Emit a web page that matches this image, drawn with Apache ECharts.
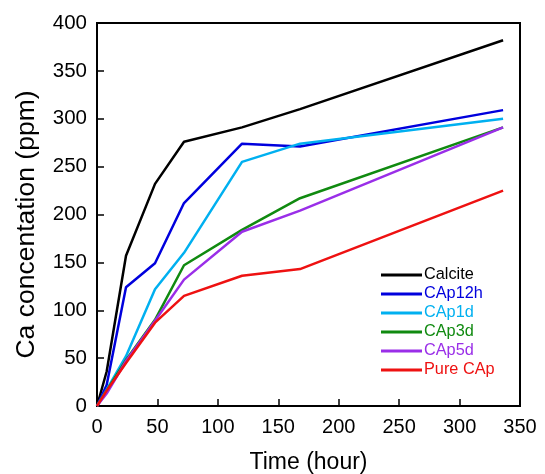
<!DOCTYPE html>
<html><head><meta charset="utf-8">
<script src="https://cdn.jsdelivr.net/npm/echarts@6/dist/echarts.min.js"></script>
<style>html,body{margin:0;padding:0;background:#fff}#c{width:545px;height:474px}</style>
</head><body><div id="c"></div>
<script>
const times = [0, 8, 24, 48, 72, 120, 168, 336];
const seriesNames = ['Calcite', 'CAp12h', 'CAp1d', 'CAp3d', 'CAp5d', 'Pure CAp'];
const calcite = [0, 36, 157, 232, 276, 291, 310, 382];
const cap12h = [0, 22, 124, 149, 212, 274, 271, 309];
const cap1d = [0, 17, 52, 122, 160, 255, 274, 300];
const cap3d = [0, 16, 48, 90, 147, 184, 217, 291];
const cap5d = [0, 13, 47, 89, 132, 182, 204, 291];
const pureCap = [0, 16, 45, 87, 115, 136, 143, 225];
const colors = ['#000000', '#0000dd', '#00b0f0', '#108a10', '#9a2ee8', '#ee1111'];
const values = [calcite, cap12h, cap1d, cap3d, cap5d, pureCap];

const font = 'Liberation Sans, Arial, sans-serif';
const chart = echarts.init(document.getElementById('c'));
chart.setOption({
  animation: false,
  backgroundColor: '#fff',
  grid: { left: 97, top: 23, right: 25, bottom: 68, show: true, borderColor: '#000', borderWidth: 2,
          containLabel: false, outerBoundsMode: 'none' },
  legend: {
    orient: 'vertical', left: 376, top: 262, itemWidth: 41, itemHeight: 3, itemGap: 3,
    icon: 'rect',
    data: seriesNames.map((n, i) => ({ name: n, textStyle: { color: colors[i] } })),
    textStyle: { fontFamily: font, fontSize: 16.3, padding: [0, 0, 0, -3] }
  },
  xAxis: {
    type: 'value', min: 0, max: 350, interval: 50,
    name: 'Time (hour)', nameLocation: 'middle', nameGap: 45,
    nameTextStyle: { fontFamily: font, fontSize: 23, color: '#000' },
    axisLine: { lineStyle: { color: '#000', width: 2 } },
    axisTick: { inside: true, length: 7, lineStyle: { color: '#000', width: 1.5 } },
    axisLabel: { fontFamily: font, fontSize: 20, color: '#000', margin: 11 },
    splitLine: { show: false }
  },
  yAxis: {
    type: 'value', min: 0, max: 400, interval: 50,
    name: 'Ca concentation (ppm)', nameLocation: 'middle', nameGap: 57,
    nameTextStyle: { fontFamily: font, fontSize: 26.5, color: '#000', padding: [0, 20, 0, 0] },
    axisLine: { show: true, lineStyle: { color: '#000', width: 2 } },
    axisTick: { show: true, inside: true, length: 7, lineStyle: { color: '#000', width: 1.5 } },
    axisLabel: { fontFamily: font, fontSize: 20.5, color: '#000', margin: 10 },
    splitLine: { show: false }
  },
  series: seriesNames.map((n, i) => ({
    name: n, type: 'line', showSymbol: false, symbol: 'none',
    data: times.map((t, j) => [t, values[i][j]]),
    lineStyle: { color: colors[i], width: 2.5 },
    itemStyle: { color: colors[i] }
  }))
});
</script></body></html>
